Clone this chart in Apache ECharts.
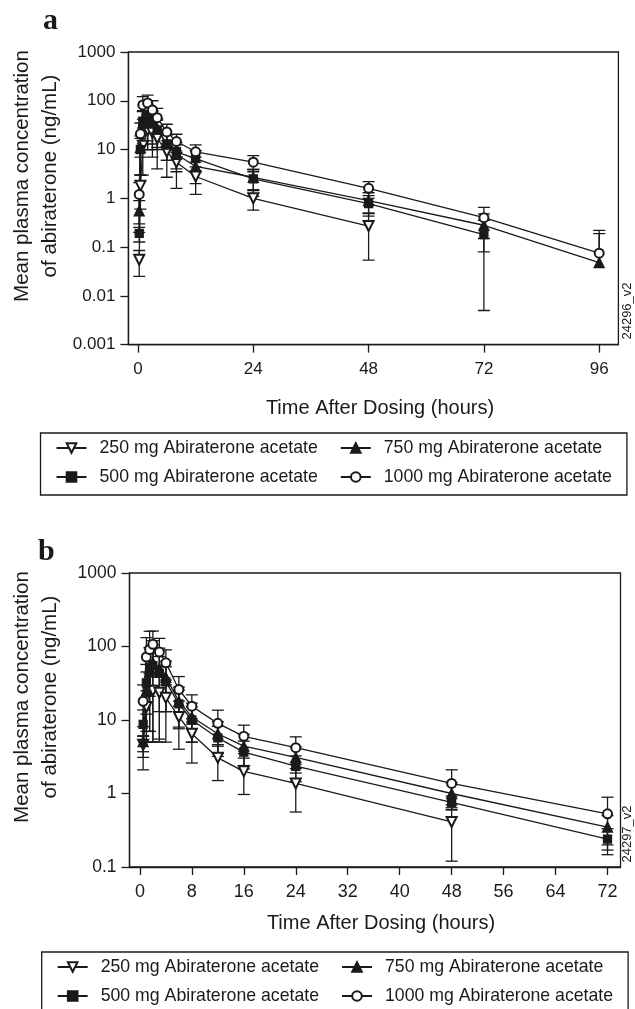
<!DOCTYPE html>
<html><head><meta charset="utf-8">
<script src="https://cdn.jsdelivr.net/npm/echarts@6/dist/echarts.min.js"></script>
<style>html,body{margin:0;padding:0;background:#fff}#c{width:635px;height:1009px}</style>
</head><body><div id="c"></div>
<script>
// ---------- data ----------
const seriesNames = ['250 mg Abiraterone acetate','500 mg Abiraterone acetate','750 mg Abiraterone acetate','1000 mg Abiraterone acetate'];

// Panel a
const timeA = [0.25, 0.5, 1, 2, 3, 4, 6, 8, 12, 24, 48, 72, 96];
const mean250A  = [0.055, 1.8, 12, 25, 22, 17, 9, 5.5, 2.8, 1.0, 0.27];
const sd250A    = [0.03, 1.2, 9, 15, 15, 13, 6.3, 3.9, 1.6, 0.43, 0.216];
const mean500A  = [0.19, 10, 38, 50, 35, 25, 13, 9, 6.5, 2.5, 0.78, 0.18];
const sd500A    = [0.063, 7, 25, 35, 25, 15, 7, 5, 3, 1.4, 0.35, 0.175];
const mean750A  = [0.55, 11, 35, 45, 38, 27, 13, 8, 4.5, 2.7, 0.9, 0.28, 0.048];
const sd750A    = [0.35, 8, 25, 35, 25, 16, 7, 4.5, 2.5, 1.2, 0.4, 0.2, 0.14];
const mean1000A = [1.2, 21, 82, 90, 65, 45, 23, 14.6, 9, 5.5, 1.6, 0.4, 0.075];
const sd1000A   = [0.9, 14, 40, 40, 35, 25, 10, 6, 3.5, 2, 0.6, 0.25, 0.145];

// Panel b
const timeB = [0.5, 1, 1.5, 2, 3, 4, 6, 8, 12, 16, 24, 48, 72];
const mean250B  = [4.6, 15, 25, 25, 23.5, 20, 11, 6.5, 3.06, 2.0, 1.37, 0.41];
const sd250B    = [1.5, 10, 18, 20, 18, 15, 7, 3.9, 1.56, 1.03, 0.81, 0.29];
const mean500B  = [8.7, 32, 52, 55, 43, 33, 16.6, 10, 5.7, 3.65, 2.35, 0.76, 0.24];
const sd500B    = [5, 25, 45, 50, 30, 20, 9, 5, 2.5, 1.5, 0.9, 0.16, 0.093];
const mean750B  = [5.1, 25, 45, 60, 50, 38, 18, 11, 6.5, 4.4, 3.1, 1.0, 0.35];
const sd750B    = [3, 20, 50, 60, 45, 25, 10, 6, 3, 2, 1.2, 0.4, 0.15];
const mean1000B = [18, 72, 91, 107, 84, 60, 26, 15.4, 9, 6.0, 4.2, 1.37, 0.53];
const sd1000B   = [12, 60, 70, 55, 45, 30, 13, 6.6, 4.6, 2.5, 1.7, 0.73, 0.36];

// tick labels
const xTicksA = [0, 24, 48, 72, 96];
const xTicksB = [0, 8, 16, 24, 32, 40, 48, 56, 64, 72];
const yTicksA = ['0.001', '0.01', '0.1', '1', '10', '100', '1000'];
const yTicksB = ['0.1', '1', '10', '100', '1000'];

// ---------- styles ----------
const INK = '#1a1a1a';
const FONT = '"Liberation Sans", Arial, sans-serif';
const symbols = [
  {symbol: 'emptyTriangle', rotate: 180, size: 10},
  {symbol: 'rect', rotate: 0, size: 8},
  {symbol: 'triangle', rotate: 0, size: 10},
  {symbol: 'emptyCircle', rotate: 0, size: 9}
];

function fmtLog(v) {
  const e = Math.round(Math.log10(v));
  return e >= 0 ? String(Math.pow(10, e)) : Math.pow(10, e).toFixed(-e);
}

function pairs(times, means) {
  return means.map((m, i) => [times[i], m]);
}
function errData(times, means, sds) {
  return means.map((m, i) => {
    const lo = m - sds[i];
    return [times[i], m, m + sds[i], lo > 0 ? lo : m];
  });
}

function renderErr(params, api) {
  const x = api.value(0), m = api.value(1), hi = api.value(2), lo = api.value(3);
  const pm = api.coord([x, m]);
  const ph = api.coord([x, hi]);
  const cw = 6;
  const st = {stroke: INK, lineWidth: 1.3};
  const ch = [
    {type: 'line', shape: {x1: pm[0], y1: pm[1], x2: ph[0], y2: ph[1]}, style: st},
    {type: 'line', shape: {x1: ph[0] - cw, y1: ph[1], x2: ph[0] + cw, y2: ph[1]}, style: st}
  ];
  if (lo < m) {
    const pl = api.coord([x, lo]);
    ch.push({type: 'line', shape: {x1: pm[0], y1: pm[1], x2: pl[0], y2: pl[1]}, style: st});
    ch.push({type: 'line', shape: {x1: pl[0] - cw, y1: pl[1], x2: pl[0] + cw, y2: pl[1]}, style: st});
  }
  return {type: 'group', children: ch};
}

const panels = [
  {times: timeA, means: [mean250A, mean500A, mean750A, mean1000A], sds: [sd250A, sd500A, sd750A, sd1000A]},
  {times: timeB, means: [mean250B, mean500B, mean750B, mean1000B], sds: [sd250B, sd500B, sd750B, sd1000B]}
];

const series = [];
panels.forEach((p, gi) => {
  p.means.forEach((means, si) => {
    series.push({
      type: 'custom', name: 'err' + gi + '_' + si,
      xAxisIndex: gi, yAxisIndex: gi,
      renderItem: renderErr, clip: true, z: 1,
      encode: {x: 0, y: [1, 2, 3]},
      data: errData(p.times, means, p.sds[si])
    });
  });
  p.means.forEach((means, si) => {
    series.push({
      type: 'line', name: seriesNames[si],
      xAxisIndex: gi, yAxisIndex: gi, z: 3,
      symbol: symbols[si].symbol, symbolRotate: symbols[si].rotate, symbolSize: symbols[si].size,
      showAllSymbol: true,
      lineStyle: {color: INK, width: 1.3},
      itemStyle: {color: INK, borderColor: INK, borderWidth: 1.3},
      emphasis: {disabled: true},
      data: pairs(p.times, means)
    });
  });
});

function xAxisCfg(gi, min, max, ticks, fs) {
  return {
    gridIndex: gi, type: 'value', min: min, max: max,
    axisLine: {show: true, onZero: false, lineStyle: {color: INK, width: 1.3}},
    axisTick: {show: true, length: 8, customValues: ticks, lineStyle: {color: INK, width: 1.3}},
    axisLabel: {customValues: ticks, fontSize: fs, fontFamily: FONT, color: INK, margin: 16},
    splitLine: {show: false}
  };
}
function yAxisCfg(gi, min, max, n, fs) {
  return {
    gridIndex: gi, type: 'log', logBase: 10, min: min, max: max, splitNumber: n,
    axisLine: {show: true, onZero: false, lineStyle: {color: INK, width: 1.3}},
    axisTick: {show: true, length: 8, lineStyle: {color: INK, width: 1.3}},
    minorTick: {show: false},
    axisLabel: {fontSize: fs, fontFamily: FONT, color: INK, margin: 13, formatter: fmtLog},
    splitLine: {show: false}
  };
}

function legendCfg(top, left) {
  return {
    data: [seriesNames[0], seriesNames[2], seriesNames[1], seriesNames[3]],
    orient: 'horizontal', left: left, top: top, width: 575,
    itemWidth: 30, itemHeight: 12, itemGap: 9,
    padding: [5, 2, 8, 15],
    borderColor: INK, borderWidth: 1.3,
    selectedMode: false,
    textStyle: {fontSize: 17.7, fontFamily: FONT, color: INK, lineHeight: 20, padding: [0, 13, 0, 8]}
  };
}

function vText(x, y, txt, font) {
  return {type: 'text', x: x, y: y, rotation: Math.PI / 2,
    style: {text: txt, font: font, fill: INK, align: 'center', verticalAlign: 'middle'}};
}
function hText(x, y, txt, font) {
  return {type: 'text', x: x, y: y,
    style: {text: txt, font: font, fill: INK, align: 'center', verticalAlign: 'middle'}};
}

const option = {
  animation: false,
  backgroundColor: '#fff',
  grid: [
    {left: 128.4, top: 52, width: 490, height: 292.6, show: true, borderColor: INK, borderWidth: 1.3, containLabel: false},
    {left: 129.5, top: 573, width: 491, height: 294, show: true, borderColor: INK, borderWidth: 1.3, containLabel: false}
  ],
  xAxis: [xAxisCfg(0, -2, 100, xTicksA, 17), xAxisCfg(1, -1.6, 74, xTicksB, 18)],
  yAxis: [yAxisCfg(0, 0.001, 1000, yTicksA.length - 1, 17), yAxisCfg(1, 0.1, 1000, yTicksB.length - 1, 17.5)],
  legend: [legendCfg(433, 40.5), legendCfg(952, 41.7)],
  series: series,
  graphic: [
    {type: 'text', x: 43, y: 21.5, style: {text: 'a', font: 'bold 30px "Liberation Serif", serif', fill: INK, verticalAlign: 'middle'}},
    {type: 'text', x: 38, y: 552, style: {text: 'b', font: 'bold 30px "Liberation Serif", serif', fill: INK, verticalAlign: 'middle'}},
    vText(22, 176, 'Mean plasma concentration', '20.5px ' + FONT),
    vText(50, 176, 'of abiraterone (ng/mL)', '20.5px ' + FONT),
    vText(22, 697, 'Mean plasma concentration', '20.5px ' + FONT),
    vText(50, 697, 'of abiraterone (ng/mL)', '20.5px ' + FONT),
    hText(380, 408, 'Time After Dosing (hours)', '20px ' + FONT),
    hText(381, 923, 'Time After Dosing (hours)', '20px ' + FONT),
    vText(627, 311, '24296_v2', '13px ' + FONT),
    vText(627, 834, '24297_v2', '13px ' + FONT)
  ]
};

const chart = echarts.init(document.getElementById('c'), null, {renderer: 'canvas'});
chart.setOption(option);
</script>
</body></html>
